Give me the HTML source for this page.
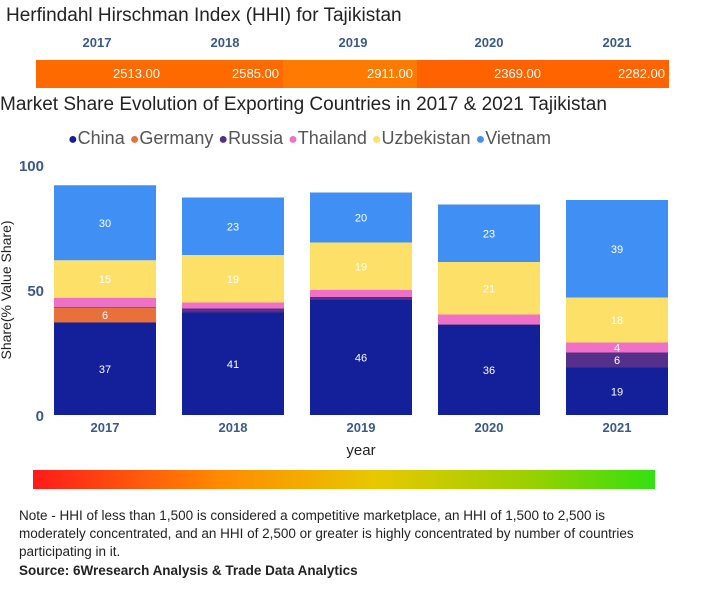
<!DOCTYPE html>
<html><head><meta charset="utf-8"><style>
body{margin:0;width:703px;height:600px;background:#fff;font-family:"Liberation Sans",sans-serif;overflow:hidden;position:relative}
.abs{position:absolute}
</style></head><body>
<div class="abs" style="left:6px;top:5px;font-size:19px;color:#222">Herfindahl Hirschman Index (HHI) for Tajikistan</div>
<div id="hhi"></div>
<div class="abs" style="left:0;top:94px;font-size:19px;color:#222">Market Share Evolution of Exporting Countries in 2017 &amp; 2021 Tajikistan</div>
<div class="abs" style="left:68px;top:128px;font-size:18px;color:#555;white-space:nowrap" id="legend"></div>
<svg class="abs" style="left:0;top:150px" width="703" height="320" id="chart"></svg>
<div class="abs" style="left:33px;top:470px;width:622px;height:19px;background:linear-gradient(90deg,#ff1a1a,#ff8a00 30%,#e8c800 55%,#9ad000 80%,#33e010)"></div>
<div class="abs" style="left:19px;top:507px;width:630px;font-size:13.5px;line-height:18px;color:#222">Note - HHI of less than 1,500 is considered a competitive marketplace, an HHI of 1,500 to 2,500 is moderately concentrated, and an HHI of 2,500 or greater is highly concentrated by number of countries participating in it.</div>
<div class="abs" style="left:19px;top:563px;font-size:13.5px;font-weight:bold;color:#222">Source: 6Wresearch Analysis &amp; Trade Data Analytics</div>
<script>
const years=["2017","2018","2019","2020","2021"];
const hhiValues=[2513,2585,2911,2369,2282];
const series=["China","Germany","Russia","Thailand","Uzbekistan","Vietnam"];
const colors=["#14209a","#e8703a","#55308a","#f070c8","#fde068","#3f8ff5"];
const china=[37,41,46,36,19];
const germany=[6,0,0,0,0];
const russia=[0.3,1.6,1.2,0.3,6];
const thailand=[3.6,2.4,2.8,3.9,4];
const uzbekistan=[15,19,19,21,18];
const vietnam=[30,23,20,23,39];
const seriesValues=[china,germany,russia,thailand,uzbekistan,vietnam];
const yTicks=[0,50,100];

const hhi=document.getElementById('hhi');
const segX=[36,164,283,417,545,669];
const segC=["#ff6a00","#ff6a00","#ff7a00","#ff6200","#ff6400"];
const labX=[97,225,353,489,617];
years.forEach((y,i)=>{
 const d=document.createElement('div');d.className='abs';
 
 
 d.style.cssText=`left:${labX[i]-30}px;width:60px;text-align:center;top:35px;font-size:13px;font-weight:bold;color:#3a5a8a`;
 d.textContent=y;hhi.appendChild(d);
 const s=document.createElement('div');s.className='abs';
 
 
 s.style.cssText=`left:${segX[i]}px;width:${segX[i+1]-segX[i]}px;top:60px;height:28px;background:${segC[i]};color:#fff;font-size:13px;line-height:28px;text-align:right;box-sizing:border-box;padding-right:4px`;
 s.textContent=hhiValues[i].toFixed(2);hhi.appendChild(s);
});

const lg=document.getElementById('legend');
series.forEach((n,i)=>{
 const sp=document.createElement('span');
 
 
 sp.innerHTML=`<span style="color:${colors[i]};font-size:16px">●</span>${n} `;
 lg.appendChild(sp);
});

const svg=document.getElementById('chart');const NS='http://www.w3.org/2000/svg';
const y0=265,pxPer=2.5;
const yS=v=>y0-v*pxPer;
const xS=i=>54+i*128;
const bw=102;
function el(t,a,txt){const e=document.createElementNS(NS,t);for(const k in a)e.setAttribute(k,a[k]);if(txt!==undefined)e.textContent=txt;svg.appendChild(e);return e;}
yTicks.forEach(t=>{const e=el('text',{x:44,y:yS(t)+6,'text-anchor':'end','font-size':'15','font-weight':'bold',fill:'#3a5a8a'},t);

});
const yt=el('text',{x:0,y:0,transform:'translate(11,140) rotate(-90)','text-anchor':'middle','font-size':'14',fill:'#222'},'Share(% Value Share)');


years.forEach((y,i)=>{
 let acc=0;
 seriesValues.forEach((arr,s)=>{
  const v=arr[i];if(v<=0)return;
  const r=el('rect',{x:xS(i),y:yS(acc+v),width:bw,height:v*pxPer,fill:colors[s]});
  
  
  if(v>=4){const t=el('text',{x:xS(i)+bw/2,y:yS(acc+v/2)+4,'text-anchor':'middle','font-size':'11',fill:'#fff'},Math.round(v));
   
   }
  acc+=v;
 });
 const xl=el('text',{x:xS(i)+bw/2,y:y0+17,'text-anchor':'middle','font-size':'13','font-weight':'bold',fill:'#3a5a8a'},y);
 
 
});
const xt=el('text',{x:361,y:y0+40,'text-anchor':'middle','font-size':'15',fill:'#222'},'year');


</script>
</body></html>
